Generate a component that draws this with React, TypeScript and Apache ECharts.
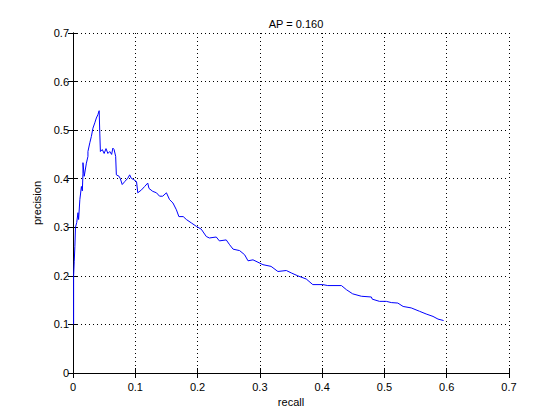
import React, { useEffect, useRef } from "react";
import * as echarts from "echarts";

const recall = [
  0.001, 0.001, 0.002, 0.003, 0.004, 0.006, 0.008, 0.009, 0.011, 0.0135, 0.015, 0.016, 0.016, 0.018,
  0.0215, 0.024, 0.024, 0.027, 0.0295, 0.032, 0.035, 0.0375, 0.04, 0.042, 0.043, 0.044, 0.047, 0.05,
  0.053, 0.056, 0.059, 0.062, 0.064, 0.066, 0.0685, 0.0696, 0.074, 0.076, 0.079, 0.083, 0.088, 0.091,
  0.0935, 0.0975, 0.102, 0.104, 0.11, 0.115, 0.12, 0.122, 0.128, 0.134, 0.139, 0.144, 0.15, 0.155,
  0.1605, 0.166, 0.17, 0.177, 0.182, 0.19, 0.198, 0.206, 0.214, 0.219, 0.23, 0.235, 0.246, 0.2515,
  0.257, 0.2675, 0.2755, 0.281, 0.289, 0.297, 0.305, 0.318, 0.329, 0.3425, 0.3505, 0.361, 0.3745,
  0.385, 0.401, 0.409, 0.431, 0.439, 0.449, 0.463, 0.479, 0.4805, 0.492, 0.503, 0.511, 0.5215, 0.53,
  0.543, 0.5565, 0.567, 0.578, 0.586, 0.595,
];
const precision = [
  0.1, 0.2, 0.23, 0.26, 0.3, 0.31, 0.33, 0.316, 0.357, 0.384, 0.375, 0.41, 0.433, 0.405,
  0.432, 0.446, 0.456, 0.474, 0.487, 0.504, 0.515, 0.525, 0.532, 0.54, 0.494, 0.456, 0.46, 0.452,
  0.462, 0.452, 0.456, 0.45, 0.463, 0.46, 0.446, 0.408, 0.405, 0.4, 0.388, 0.394, 0.401, 0.408,
  0.401, 0.398, 0.394, 0.371, 0.377, 0.384, 0.391, 0.38, 0.374, 0.371, 0.364, 0.364, 0.371, 0.357,
  0.35, 0.336, 0.322, 0.322, 0.316, 0.309, 0.302, 0.296, 0.281, 0.278, 0.28, 0.272, 0.274, 0.264,
  0.255, 0.252, 0.2435, 0.231, 0.233, 0.228, 0.223, 0.2195, 0.209, 0.211, 0.206, 0.2, 0.1935,
  0.182, 0.182, 0.18, 0.18, 0.1715, 0.163, 0.158, 0.1565, 0.152, 0.1475, 0.1475, 0.145, 0.144, 0.137,
  0.134, 0.127, 0.1215, 0.1165, 0.111, 0.108,
];
const titleText = "AP = 0.160";
const xName = "recall";
const yName = "precision";
const axisMin = 0;
const axisMax = 0.7;
const axisStep = 0.1;

const FONT = "Liberation Sans, Arial, sans-serif";

export default function App() {
  const ref = useRef<HTMLDivElement>(null);
  useEffect(() => {
    if (!ref.current) return;
    const chart = echarts.init(ref.current, null, { renderer: "svg" });
    const fmt = (v: number) => (Math.abs(v) < 1e-9 ? "0" : String(Math.round(v * 10) / 10));
    const lineBlack = { show: true, lineStyle: { color: "#000", width: 1 } };
    const tickIn = { show: true, inside: true, length: 5, lineStyle: { color: "#000", width: 1 } };
    const grid = { show: true, lineStyle: { color: "#000", width: 1, type: [1, 3] as any } };
    chart.setOption({
      animation: false,
      backgroundColor: "#fff",
      title: {
        text: titleText,
        left: 291,
        textAlign: "center",
        top: 13,
        textStyle: { fontSize: 11, fontWeight: "normal", color: "#000", fontFamily: FONT },
      },
      grid: { left: 73, right: 51, top: 33, bottom: 47 },
      xAxis: [
        {
          type: "value",
          min: axisMin,
          max: axisMax,
          interval: axisStep,
          position: "bottom",
          name: xName,
          nameLocation: "middle",
          nameGap: 23,
          nameTextStyle: { fontSize: 11, color: "#000", fontFamily: FONT },
          axisLine: lineBlack,
          axisTick: tickIn,
          splitLine: grid,
          axisLabel: { color: "#000", fontSize: 11, fontFamily: FONT, margin: 8, formatter: fmt },
        },
        {
          type: "value",
          min: axisMin,
          max: axisMax,
          interval: axisStep,
          position: "top",
          axisLine: lineBlack,
          axisTick: tickIn,
          splitLine: { show: false },
          axisLabel: { show: false },
        },
      ],
      yAxis: [
        {
          type: "value",
          min: axisMin,
          max: axisMax,
          interval: axisStep,
          position: "left",
          name: yName,
          nameLocation: "middle",
          nameGap: 19,
          nameTextStyle: { fontSize: 11, color: "#000", fontFamily: FONT },
          axisLine: lineBlack,
          axisTick: tickIn,
          splitLine: grid,
          axisLabel: { color: "#000", fontSize: 11, fontFamily: FONT, margin: 4, formatter: fmt },
        },
        {
          type: "value",
          min: axisMin,
          max: axisMax,
          interval: axisStep,
          position: "right",
          axisLine: lineBlack,
          axisTick: tickIn,
          splitLine: { show: false },
          axisLabel: { show: false },
        },
      ],
      series: [
        {
          type: "line",
          xAxisIndex: 0,
          yAxisIndex: 0,
          data: recall.map((r, i) => [r, precision[i]]),
          showSymbol: false,
          symbol: "none",
          lineStyle: { color: "#0000ff", width: 1 },
        },
      ],
    });
    return () => chart.dispose();
  }, []);
  return (
    <div
      ref={ref}
      style={{ position: "fixed", left: 0, top: 0, width: 560, height: 420, background: "#fff" }}
    />
  );
}
